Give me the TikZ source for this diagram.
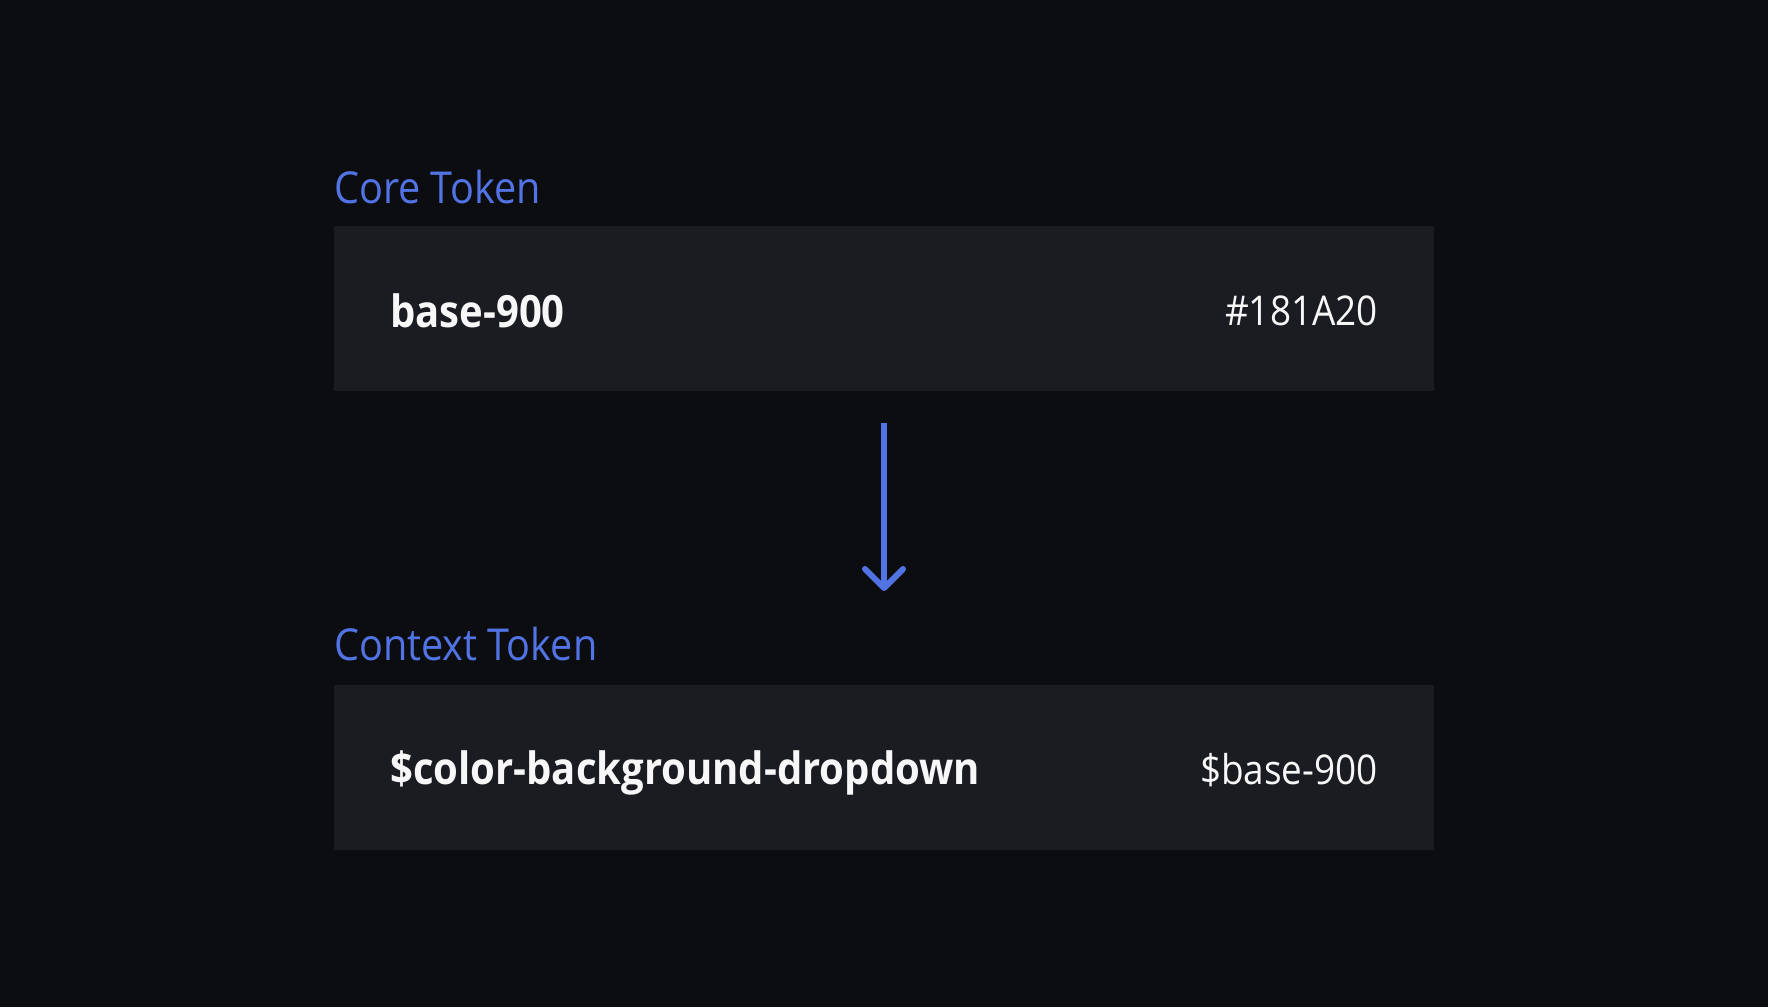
\documentclass[tikz,border=0pt]{standalone}
\usepackage{fontspec}
\setmainfont{Open Sans}[FakeStretch=0.9]
\usetikzlibrary{arrows.meta}
\definecolor{bgc}{HTML}{0C0D11}
\definecolor{boxc}{HTML}{1B1C21}
\definecolor{bluec}{HTML}{5173E4}
\definecolor{txtc}{HTML}{F7F7F8}
\tikzset{
  box/.style={fill=boxc, draw=none, minimum width=1100pt, minimum height=165pt, inner sep=0pt},
  title/.style={text=bluec, font=\fontsize{44}{52}\selectfont, anchor=base west, inner sep=0pt},
  keytxt/.style={text=txtc, font=\fontsize{44.5}{52}\selectfont\bfseries, anchor=base west, inner sep=0pt},
  valtxt/.style={text=txtc, font=\fontsize{41}{48}\selectfont, anchor=base east, inner sep=0pt},
  flow/.style={draw=bluec, line width=6pt, line cap=round, line join=round}
}
\begin{document}
\begin{tikzpicture}[x=1pt,y=-1pt]
\fill[bgc] (0,0) rectangle (1768,1007);
\useasboundingbox (0,0) rectangle (1768,1007);

\node[title] (coretitle) at (334,203) {Core Token};
\node[box] (core) at (884,308.5) {};
\node[keytxt] (corekey) at (390,327) {base-900};
\node[valtxt] (coreval) at (1378,325) {\#181A20};

\node[title] (ctxtitle) at (334,660) {Context Token};
\node[box] (ctx) at (884,767) {};
\node[keytxt] (ctxkey) at (390,784) {\$color-background-dropdown};
\node[valtxt] (ctxval) at (1378,784) {\$base-900};

\coordinate (atop) at (884,423);
\coordinate (atip) at (884,588);
\coordinate (aleft) at (865,569);
\coordinate (aright) at (903,569);
\draw[flow, line cap=butt] (atop) -- (atip);
\draw[flow] (aleft) -- (atip) -- (aright);
\end{tikzpicture}
\end{document}
